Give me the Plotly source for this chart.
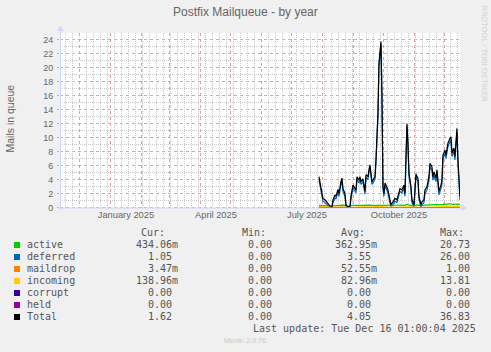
import plotly.graph_objects as go
import pandas as pd

# ---------------- data ----------------
dates = [
    "2025-07-28", "2025-07-30", "2025-08-01", "2025-08-03", "2025-08-06", "2025-08-08", "2025-08-10",
    "2025-08-11", "2025-08-13", "2025-08-14", "2025-08-16", "2025-08-17", "2025-08-19", "2025-08-20",
    "2025-08-21", "2025-08-23", "2025-08-24", "2025-08-26", "2025-08-28", "2025-08-29", "2025-08-31",
    "2025-09-01", "2025-09-03", "2025-09-04", "2025-09-06", "2025-09-07", "2025-09-08", "2025-09-10",
    "2025-09-12", "2025-09-13", "2025-09-15", "2025-09-16", "2025-09-17", "2025-09-19", "2025-09-20",
    "2025-09-22", "2025-09-23", "2025-09-25", "2025-09-26", "2025-09-28", "2025-09-29", "2025-09-30",
    "2025-10-01", "2025-10-02", "2025-10-03", "2025-10-05", "2025-10-07", "2025-10-08", "2025-10-10",
    "2025-10-12", "2025-10-14", "2025-10-16", "2025-10-17", "2025-10-19", "2025-10-21", "2025-10-22",
    "2025-10-23", "2025-10-24", "2025-10-25", "2025-10-26", "2025-10-28", "2025-10-29", "2025-10-31",
    "2025-11-01", "2025-11-02", "2025-11-03", "2025-11-04", "2025-11-05", "2025-11-07", "2025-11-08",
    "2025-11-10", "2025-11-11", "2025-11-13", "2025-11-15", "2025-11-16", "2025-11-18", "2025-11-19",
    "2025-11-20", "2025-11-22", "2025-11-23", "2025-11-24", "2025-11-25", "2025-11-27", "2025-11-28",
    "2025-11-29", "2025-12-01", "2025-12-02", "2025-12-03", "2025-12-04", "2025-12-06", "2025-12-07",
    "2025-12-08", "2025-12-10", "2025-12-11", "2025-12-13", "2025-12-14", "2025-12-15", "2025-12-16",
]

total = [
    4.4, 2.5, 1.3, 1.1, 0.6, 0.2, 0.1, 1.1, 1.8, 1.6, 2.6, 2.0, 3.7, 4.2, 2.7, 2.0, 0.4, 0.1, 0.2, 1.6, 3.2,
    3.0, 2.5, 4.4, 3.9, 4.4, 3.7, 4.1, 2.3, 4.7, 4.4, 5.4, 6.1, 3.7, 3.9, 4.4, 6.8, 13.5, 20.6, 23.7, 15.9, 3.0,
    2.0, 3.5, 3.2, 2.5, 1.1, 0.4, 0.8, 1.3, 1.1, 2.3, 2.7, 2.5, 3.2, 2.0, 7.3, 12.0, 9.2, 4.9, 3.0, 1.1, 0.4,
    3.0, 4.8, 4.4, 4.2, 1.6, 0.4, 0.8, 1.1, 2.5, 3.0, 4.4, 6.3, 5.8, 4.4, 5.1, 4.2, 5.4, 3.0, 2.3, 3.2, 3.9, 7.5,
    8.2, 7.5, 8.7, 9.2, 9.9, 10.1, 7.8, 8.5, 7.3, 11.3, 6.8, 3.9, 1.62,
]

deferred = [
    3.9, 2.1, 0.9, 0.7, 0.3, 0.0, 0.0, 0.7, 1.4, 1.2, 2.2, 1.6, 3.3, 3.8, 2.3, 1.6, 0.1, 0.0, 0.0, 1.2, 2.8,
    2.6, 2.1, 4.0, 3.5, 4.0, 3.3, 3.7, 1.9, 4.3, 4.0, 5.0, 5.7, 3.3, 3.5, 4.0, 6.4, 13.1, 20.2, 23.3, 15.5, 2.6,
    1.6, 3.1, 2.8, 2.1, 0.7, 0.1, 0.4, 0.9, 0.7, 1.9, 2.3, 2.1, 2.8, 1.6, 6.9, 11.6, 8.8, 4.5, 2.6, 0.7, 0.1,
    2.6, 4.4, 4.0, 3.8, 1.2, 0.0, 0.4, 0.7, 2.0, 2.5, 3.9, 5.8, 5.3, 3.9, 4.6, 3.7, 4.9, 2.5, 1.8, 2.7, 3.4, 7.0,
    7.7, 7.0, 8.2, 8.7, 9.4, 9.6, 7.3, 8.0, 6.8, 10.8, 6.3, 3.4, 1.05,
]

active = [
    0.30, 0.28, 0.25, 0.27, 0.22, 0.18, 0.15, 0.25, 0.28, 0.30, 0.32, 0.30, 0.28, 0.30, 0.33, 0.30, 0.22, 0.15, 0.18, 0.25, 0.30,
    0.32, 0.30, 0.28, 0.35, 0.30, 0.28, 0.30, 0.33, 0.30, 0.35, 0.32, 0.30, 0.33, 0.30, 0.28, 0.30, 0.35, 0.33, 0.30, 0.30, 0.32,
    0.30, 0.32, 0.28, 0.30, 0.25, 0.22, 0.28, 0.30, 0.32, 0.35, 0.33, 0.30, 0.35, 0.32, 0.40, 0.45, 0.38, 0.33, 0.30, 0.25, 0.22,
    0.30, 0.35, 0.38, 0.35, 0.30, 0.25, 0.30, 0.33, 0.38, 0.40, 0.45, 0.42, 0.40, 0.45, 0.42, 0.40, 0.45, 0.40, 0.38, 0.42, 0.45, 0.48,
    0.50, 0.45, 0.50, 0.48, 0.52, 0.50, 0.45, 0.48, 0.50, 0.52, 0.48, 0.45, 0.434,
]

incoming = [
    0.10, 0.08, 0.06, 0.05, 0.04, 0.02, 0.02, 0.05, 0.06, 0.07, 0.08, 0.07, 0.09, 0.10, 0.08, 0.07, 0.03, 0.02, 0.02, 0.05, 0.08,
    0.08, 0.07, 0.10, 0.09, 0.10, 0.08, 0.09, 0.06, 0.10, 0.09, 0.11, 0.12, 0.09, 0.09, 0.10, 0.12, 0.15, 0.18, 0.20, 0.16, 0.08,
    0.06, 0.08, 0.08, 0.07, 0.05, 0.03, 0.04, 0.05, 0.05, 0.07, 0.08, 0.07, 0.08, 0.06, 0.12, 0.15, 0.13, 0.10, 0.08, 0.05, 0.03,
    0.08, 0.10, 0.10, 0.09, 0.06, 0.03, 0.04, 0.05, 0.07, 0.08, 0.10, 0.12, 0.11, 0.10, 0.11, 0.10, 0.11, 0.08, 0.07, 0.08, 0.09, 0.12,
    0.13, 0.12, 0.13, 0.14, 0.15, 0.15, 0.12, 0.13, 0.12, 0.16, 0.12, 0.10, 0.139,
]

maildrop = [
    0.05, 0.04, 0.03, 0.03, 0.02, 0.01, 0.01, 0.03, 0.04, 0.04, 0.05, 0.04, 0.05, 0.06, 0.05, 0.04, 0.02, 0.01, 0.01, 0.03, 0.05,
    0.05, 0.04, 0.06, 0.05, 0.06, 0.05, 0.05, 0.04, 0.06, 0.06, 0.07, 0.07, 0.05, 0.05, 0.06, 0.07, 0.09, 0.10, 0.11, 0.09, 0.05,
    0.04, 0.05, 0.05, 0.04, 0.03, 0.02, 0.02, 0.03, 0.03, 0.04, 0.05, 0.04, 0.05, 0.04, 0.07, 0.08, 0.07, 0.06, 0.05, 0.03, 0.02,
    0.05, 0.06, 0.06, 0.05, 0.04, 0.02, 0.02, 0.03, 0.04, 0.05, 0.06, 0.07, 0.06, 0.06, 0.06, 0.06, 0.06, 0.05, 0.04, 0.05, 0.05, 0.07,
    0.07, 0.06, 0.07, 0.07, 0.08, 0.08, 0.06, 0.07, 0.06, 0.08, 0.06, 0.05, 0.003,
]

corrupt = [0.0] * len(dates)
held = [0.0] * len(dates)

series_names = ["active", "deferred", "maildrop", "incoming", "corrupt", "held", "Total"]
series_colors = ["#00CC00", "#0066B3", "#FF8000", "#FFCC00", "#330099", "#990099", "#000000"]
series_values = [active, deferred, maildrop, incoming, corrupt, held, total]

cur_text = ["434.06m", "1.05", "3.47m", "138.96m", "0.00", "0.00", "1.62"]
min_text = ["0.00", "0.00", "0.00", "0.00", "0.00", "0.00", "0.00"]
avg_text = ["362.95m", "3.55", "52.55m", "82.96m", "0.00", "0.00", "4.05"]
max_text = ["20.73", "26.00", "1.00", "13.81", "0.00", "0.00", "36.83"]

y_ticks = [0, 2, 4, 6, 8, 10, 12, 14, 16, 18, 20, 22, 24]
y_minor = [1, 3, 5, 7, 9, 11, 13, 15, 17, 19, 21, 23]
x_label_dates = ["2025-01-16", "2025-04-16", "2025-07-16", "2025-10-16"]
x_label_text = ["January 2025", "April 2025", "July 2025", "October 2025"]

x_start = "2024-11-11 01:00"
x_end = "2025-12-16 01:00"
title_text = "Postfix Mailqueue - by year"
y_title = "Mails in queue"
last_update = "Last update: Tue Dec 16 01:00:04 2025"
footer = "Munin 2.0.76"
watermark = "RRDTOOL / TOBI OETIKER"

# ---------------- layout constants ----------------
W, H = 491, 352
L, R, T, B = 60, 31, 33, 144
PW, PH = W - L - R, H - T - B
SANS = "Liberation Sans, Arial, sans-serif"
MONO = "DejaVu Sans Mono, monospace"
FONT_C = "#666666"
TEXT_C = "#555555"
AXIS_C = "#CFD6F8"
MGRID = "#F39A9A"
GRID = "#C8C8C8"


def px(xp):
    return (xp - L) / PW


def py(yp):
    return (T + PH - yp) / PH


month_grid = pd.date_range("2024-12-01", "2025-12-01", freq="MS")
week_grid = [d for d in pd.date_range("2024-11-12", "2025-12-16", freq="W-SUN")
             if d not in set(month_grid)]

fig = go.Figure()
x_dt = pd.to_datetime(dates)
for name, color, vals in zip(series_names, series_colors, series_values):
    fig.add_trace(go.Scatter(x=x_dt, y=vals, mode="lines", name=name,
                             line=dict(color=color, width=1.2), hoverinfo="skip",
                             showlegend=False))

# invisible trace carrying the label axis
fig.add_trace(go.Scatter(x=pd.to_datetime(x_label_dates), y=[0] * len(x_label_dates),
                         xaxis="x2", mode="markers", marker=dict(opacity=0),
                         hoverinfo="skip", showlegend=False))

fig.update_layout(
    width=W, height=H,
    margin=dict(l=L, r=R, t=T, b=B, pad=0),
    paper_bgcolor="#F0F0F0", plot_bgcolor="#FFFFFF",
    showlegend=False,
    xaxis=dict(
        type="date", range=[x_start, x_end],
        tickmode="array", tickvals=list(month_grid), showticklabels=False,
        ticks="", showgrid=True, gridcolor=MGRID, griddash="dot", gridwidth=1,
        minor=dict(tickmode="array", tickvals=week_grid, showgrid=True,
                   gridcolor=GRID, griddash="1px,1px", gridwidth=1, ticks=""),
        zeroline=False, showline=False, fixedrange=True,
    ),
    xaxis2=dict(
        type="date", range=[x_start, x_end], overlaying="x", anchor="y", side="bottom",
        tickmode="array", tickvals=pd.to_datetime(x_label_dates), ticktext=x_label_text,
        showgrid=False, ticks="", zeroline=False, showline=False,
        tickfont=dict(family=SANS, size=9.3, color=FONT_C),
    ),
    yaxis=dict(
        range=[-0.07, 24.93], tickmode="array", tickvals=y_ticks,
        ticktext=[str(v) for v in y_ticks],
        showgrid=False,
        ticks="outside", ticklen=2, tickcolor=MGRID, ticklabelstandoff=2,
        tickfont=dict(family=SANS, size=9, color=FONT_C),
        zeroline=False, showline=False, fixedrange=True,
    ),
)

shapes = []
# horizontal grid lines at the y tick values (data coordinates on the y axis)
for v in y_minor:
    shapes.append(dict(type="line", xref="paper", yref="y", x0=0, x1=1, y0=v, y1=v,
                       layer="below", line=dict(color=GRID, width=1, dash="1px,1px")))
for v in y_ticks:
    shapes.append(dict(type="line", xref="paper", yref="y", x0=0, x1=1, y0=v, y1=v,
                       layer="below", line=dict(color=MGRID, width=1, dash="dot")))

# axes with arrows
shapes.append(dict(type="line", xref="paper", yref="paper", x0=px(60.5), x1=px(60.5),
                   y0=py(210), y1=py(30), line=dict(color=AXIS_C, width=1)))
shapes.append(dict(type="line", xref="paper", yref="paper", x0=px(58), x1=px(462),
                   y0=py(208), y1=py(208), line=dict(color=AXIS_C, width=1)))
shapes.append(dict(type="path", xref="paper", yref="paper",
                   path=f"M {px(57.5)} {py(31)} L {px(63.5)} {py(31)} L {px(60.5)} {py(25.5)} Z",
                   fillcolor=AXIS_C, line=dict(width=0)))
shapes.append(dict(type="path", xref="paper", yref="paper",
                   path=f"M {px(461.5)} {py(205)} L {px(461.5)} {py(211)} L {px(467)} {py(208)} Z",
                   fillcolor=AXIS_C, line=dict(width=0)))

annotations = []
annotations.append(dict(text=title_text, x=px(245.5), y=py(12), xref="paper", yref="paper",
                        showarrow=False, xanchor="center", yanchor="middle",
                        font=dict(family=SANS, size=12, color=FONT_C)))
annotations.append(dict(text=y_title, x=px(9.5), y=py(119), xref="paper", yref="paper",
                        showarrow=False, xanchor="center", yanchor="middle", textangle=-90,
                        font=dict(family=SANS, size=10.5, color=FONT_C)))
annotations.append(dict(text=watermark, x=px(484), y=py(53.5), xref="paper", yref="paper",
                        showarrow=False, xanchor="center", yanchor="middle", textangle=90,
                        font=dict(family=SANS, size=7.6, color="#CFCFCF")))

# legend table
header_y = 232.5
row_y0, row_dy = 244.5, 12.0
col_headers = [("Cur:", 166), ("Min:", 267), ("Avg:", 366), ("Max:", 464.5)]
for txt, xr in col_headers:
    annotations.append(dict(text=txt, x=px(xr), y=py(header_y), xref="paper", yref="paper",
                            showarrow=False, xanchor="right", yanchor="middle", borderpad=0,
                            font=dict(family=MONO, size=10, color=TEXT_C)))

col_right = [179, 278.7, 378.3, 476.7]
for i, name in enumerate(series_names):
    yy = row_y0 + i * row_dy
    shapes.append(dict(type="rect", xref="paper", yref="paper",
                       x0=px(14), x1=px(20), y0=py(yy - 2.5), y1=py(yy + 3.5),
                       fillcolor=series_colors[i], line=dict(width=0)))
    annotations.append(dict(text=name, x=px(26), y=py(yy), xref="paper", yref="paper",
                            showarrow=False, xanchor="left", yanchor="middle", borderpad=0,
                            font=dict(family=MONO, size=10, color=TEXT_C)))
    for col, vals in enumerate([cur_text, min_text, avg_text, max_text]):
        v = vals[i]
        xr = col_right[col] if v.endswith("m") else col_right[col] - 6
        annotations.append(dict(text=v, x=px(xr), y=py(yy), xref="paper", yref="paper",
                                showarrow=False, xanchor="right", yanchor="middle", borderpad=0,
                                font=dict(family=MONO, size=10, color=TEXT_C)))

annotations.append(dict(text=last_update, x=px(476.7), y=py(328.5), xref="paper", yref="paper",
                        showarrow=False, xanchor="right", yanchor="middle", borderpad=0,
                        font=dict(family=MONO, size=10, color=TEXT_C)))
annotations.append(dict(text=footer, x=px(245), y=py(340.5), xref="paper", yref="paper",
                        showarrow=False, xanchor="center", yanchor="middle", borderpad=0,
                        font=dict(family=SANS, size=7.3, color="#C8C8C8")))

fig.update_layout(shapes=shapes, annotations=annotations)
fig.write_html("out.html", config={"displayModeBar": False})
